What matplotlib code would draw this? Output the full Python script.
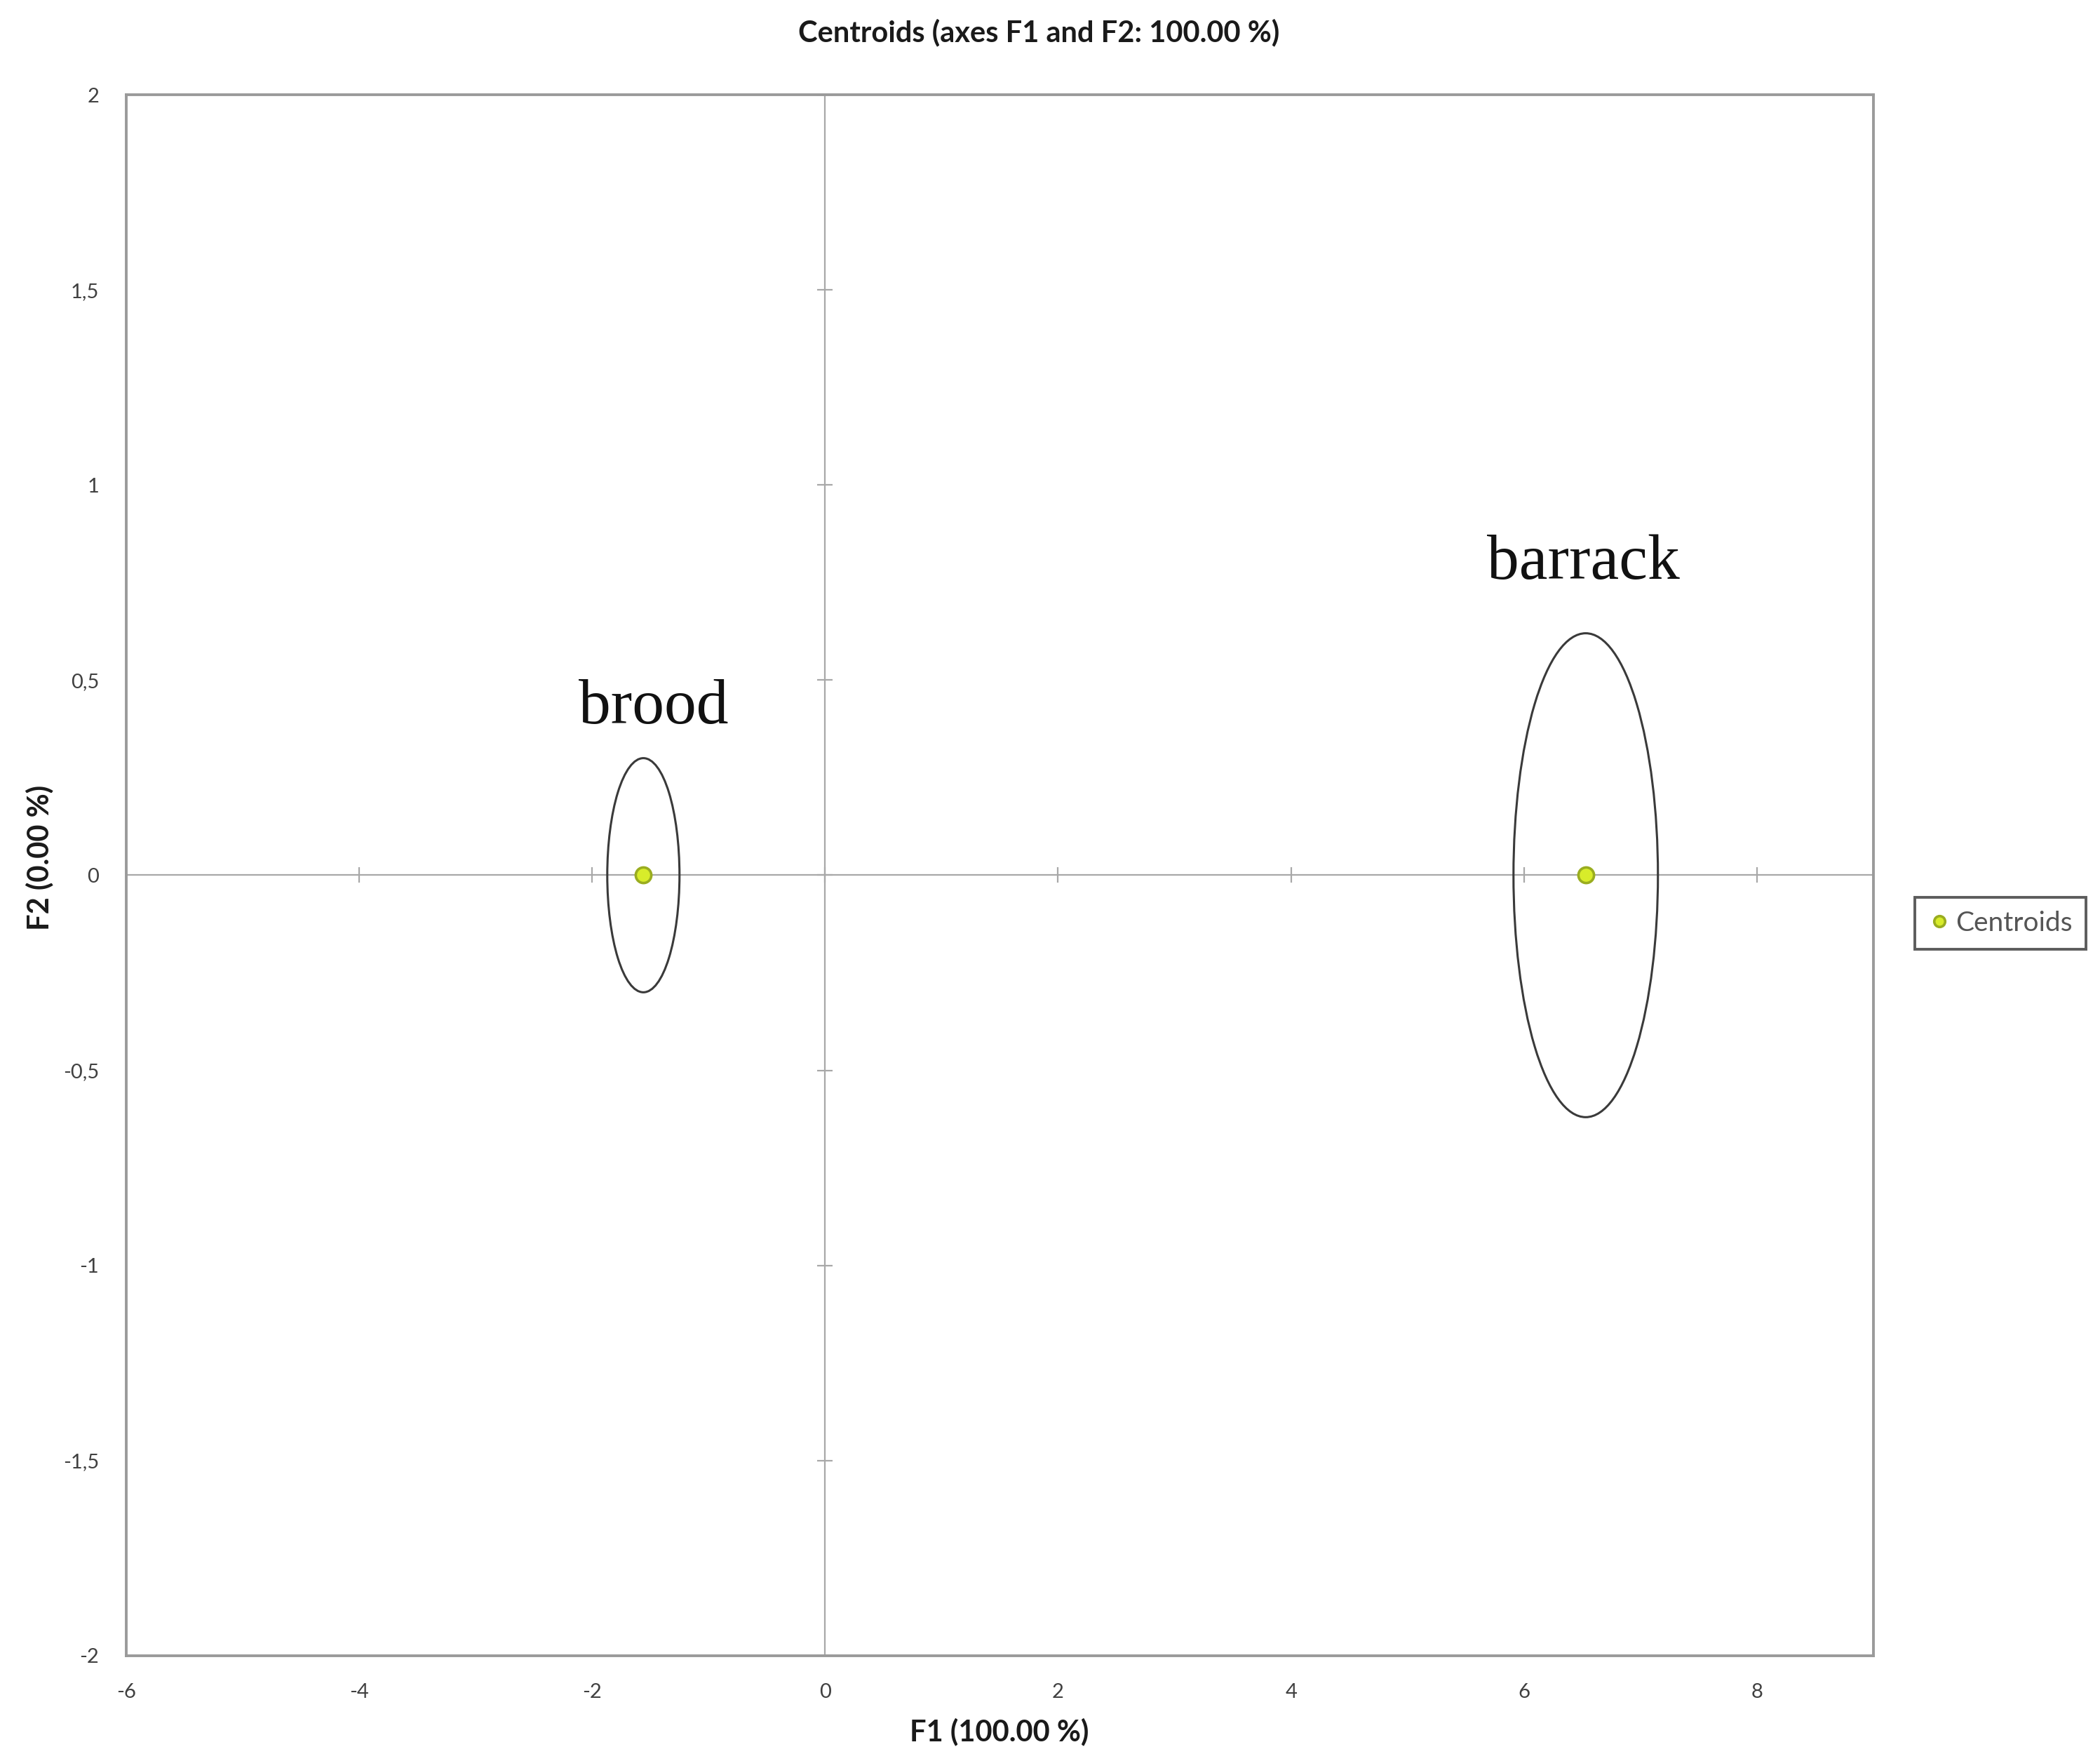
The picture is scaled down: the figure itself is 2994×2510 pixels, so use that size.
import numpy as np
import matplotlib.pyplot as plt
from matplotlib.patches import Ellipse
from matplotlib.ticker import FuncFormatter

# centroids on F1/F2
groups = ["brood", "barrack"]
f1 = [-1.56, 6.53]
f2 = [0.0, 0.0]
# confidence ellipse half-widths (F1) and half-heights (F2)
ell_w = [0.31, 0.62]
ell_h = [0.30, 0.62]
# group label positions
label_x = [-1.47, 6.51]
label_y = [0.43, 0.80]

xticks = np.arange(-6, 9, 2)
yticks = np.arange(-2, 2.01, 0.5)

plt.rcParams['font.family'] = ['Lato', 'DejaVu Sans']
plt.rcParams['axes.unicode_minus'] = False

fig = plt.figure(figsize=(14.97, 12.55), dpi=200)
ax = fig.add_axes([0.0601, 0.0598, 0.8320, 0.8864])

ax.set_xlim(-6, 9)
ax.set_ylim(-2, 2)

# zero axes with small cross ticks
ax.axhline(0, color='#a8a8a8', lw=0.8, zorder=1)
ax.axvline(0, color='#a8a8a8', lw=0.8, zorder=1)
ax.plot(xticks, np.zeros_like(xticks), ls='none', marker='|', ms=8,
        mew=0.8, color='#a8a8a8', zorder=1)
ax.plot(np.zeros_like(yticks), yticks, ls='none', marker='_', ms=8,
        mew=0.8, color='#a8a8a8', zorder=1)

for x, y, w, h in zip(f1, f2, ell_w, ell_h):
    ax.add_patch(Ellipse((x, y), 2 * w, 2 * h, fill=False,
                         edgecolor='#3a3a3a', lw=1.1, zorder=2))

ax.plot(f1, f2, ls='none', marker='o', ms=8, mfc='#d8ec2a', mec='#9aad20',
        mew=1.3, zorder=3, label='Centroids')

for name, x, y in zip(groups, label_x, label_y):
    ax.text(x, y, name, family='Liberation Serif', fontsize=33,
            ha='center', va='center', color='#111111')

ax.set_xticks(xticks)
ax.set_yticks(yticks)
ax.yaxis.set_major_formatter(FuncFormatter(lambda v, p: f"{v:g}".replace('.', ',')))
ax.tick_params(length=0, labelsize=10.5, labelcolor='#404040', pad=14)

for s in ax.spines.values():
    s.set_color('#9a9a9a')
    s.set_linewidth(1.4)

fig.text(0.4948, 0.9817, 'Centroids (axes F1 and F2: 100.00 %)', ha='center',
         va='center', fontsize=15, fontweight='bold', color='#1a1a1a')
fig.text(0.4757, 0.0167, 'F1 (100.00 %)', ha='center', va='center',
         fontsize=15, fontweight='bold', color='#1a1a1a')
fig.text(0.019, 0.513, 'F2 (0.00 %)', ha='center', va='center', rotation=90,
         fontsize=15, fontweight='bold', color='#1a1a1a')

leg = fig.legend(loc='center', bbox_to_anchor=(0.9526, 0.4757), fontsize=14,
                 frameon=True, fancybox=False, handletextpad=0.2,
                 handlelength=0.8, borderpad=0.5, markerscale=0.7)
leg.get_frame().set_edgecolor('#333333')
leg.get_frame().set_linewidth(1.4)
for t in leg.get_texts():
    t.set_color('#555555')

fig.savefig('out.png', dpi=200)
